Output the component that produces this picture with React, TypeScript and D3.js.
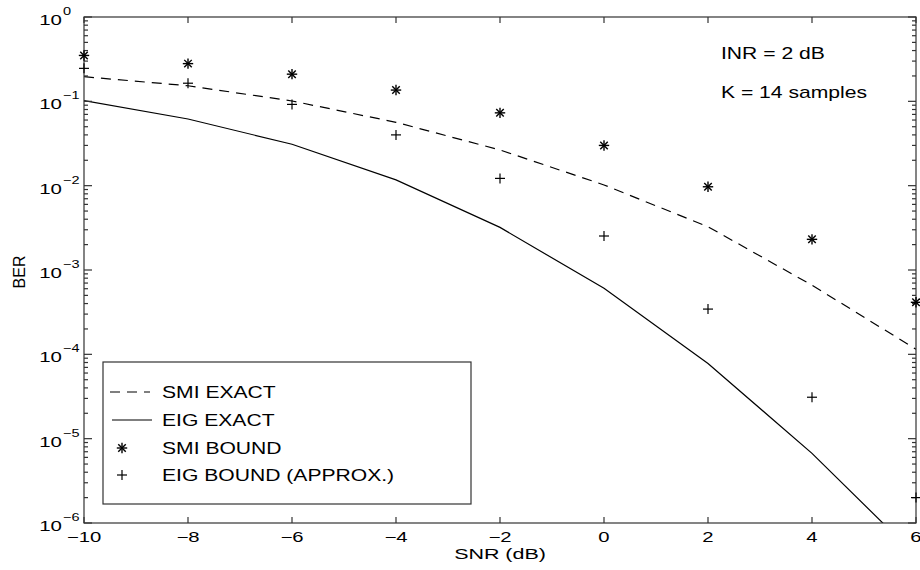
import * as d3 from 'd3';

const snr = [-10, -8, -6, -4, -2, 0, 2, 4, 6];
const smiExact = [0.196, 0.153, 0.101, 0.0564, 0.0265, 0.0102, 0.00326, 0.00066, 0.000115];
const eigExact = [0.102, 0.0617, 0.031, 0.0117, 0.0032, 0.000606, 0.000078, 0.0000067, 0.00000041];
const smiBound = [0.35, 0.28, 0.21, 0.136, 0.073, 0.03, 0.0097, 0.00231, 0.000414];
const eigBound = [0.246, 0.164, 0.092, 0.04, 0.0122, 0.00253, 0.000344, 0.000031, 0.000002];

const xTicks = [-10, -8, -6, -4, -2, 0, 2, 4, 6];
const yExps = [0, -1, -2, -3, -4, -5, -6];
const legendLabels = ['SMI EXACT', 'EIG EXACT', 'SMI BOUND', 'EIG BOUND (APPROX.)'];
const notes = ['INR = 2 dB', 'K = 14 samples'];

const W = 920, H = 570;
const L = 84, R = 916, T = 17, B = 523;
const FONT = '"Liberation Sans", Arial, Helvetica, sans-serif';

const minus = (n: number) => (n < 0 ? '\u2212' + Math.abs(n) : String(n));

// the original's lettering is drawn wide, so each text gets a horizontal stretch
const Txt = ({ x, y, anchor = 'start', size = 16, sx = 1.32, children }: any) => (
  <text
    transform={`translate(${x},${y}) scale(${sx},1)`}
    textAnchor={anchor}
    fontSize={size}
    fontFamily={FONT}
    fill="#000"
  >
    {children}
  </text>
);

const Star = ({ x, y, r = 5.2 }: any) => {
  const d = r * 0.72;
  return (
    <g stroke="#000" strokeWidth={1.4}>
      <line x1={x - r} y1={y} x2={x + r} y2={y} />
      <line x1={x} y1={y - r} x2={x} y2={y + r} />
      <line x1={x - d} y1={y - d} x2={x + d} y2={y + d} />
      <line x1={x - d} y1={y + d} x2={x + d} y2={y - d} />
    </g>
  );
};

const Plus = ({ x, y, r = 5 }: any) => (
  <g stroke="#000" strokeWidth={1.2}>
    <line x1={x - r} y1={y} x2={x + r} y2={y} />
    <line x1={x} y1={y - r} x2={x} y2={y + r} />
  </g>
);

export default function App() {
  const x = d3.scaleLinear().domain([-10, 6]).range([L, R]);
  const y = d3.scaleLog().domain([1e-6, 1]).range([B, T]);

  const line = d3.line<number>()
    .x((_, i) => x(snr[i]))
    .y(d => y(d));

  const minor: number[] = [];
  for (let e = -6; e < 0; e++) {
    for (let m = 2; m <= 9; m++) minor.push(m * Math.pow(10, e));
  }

  const axisColor = '#333';
  const legendY = [392, 420, 448, 475];

  return (
    <svg width={W} height={H} style={{ position: 'absolute', left: 0, top: 0, background: '#fff' }}>
      <defs>
        <clipPath id="plot">
          <rect x={L} y={T} width={R - L} height={B - T} />
        </clipPath>
      </defs>

      {/* curves */}
      <g clipPath="url(#plot)" fill="none" stroke="#000" strokeWidth={1.2}>
        <path d={line(smiExact) || ''} strokeDasharray="10,7" />
        <path d={line(eigExact) || ''} />
      </g>

      {/* axes box and ticks */}
      <g stroke={axisColor} strokeWidth={1.2} fill="none">
        <rect x={L} y={T} width={R - L} height={B - T} />
        {xTicks.map(t => (
          <g key={'xt' + t}>
            <line x1={x(t)} x2={x(t)} y1={B} y2={B - 6} />
            <line x1={x(t)} x2={x(t)} y1={T} y2={T + 6} />
          </g>
        ))}
        {yExps.map(e => (
          <g key={'ye' + e}>
            <line x1={L} x2={L + 8} y1={y(Math.pow(10, e))} y2={y(Math.pow(10, e))} />
            <line x1={R} x2={R - 8} y1={y(Math.pow(10, e))} y2={y(Math.pow(10, e))} />
          </g>
        ))}
        {minor.map((v, i) => (
          <g key={'mn' + i}>
            <line x1={L} x2={L + 4} y1={y(v)} y2={y(v)} />
            <line x1={R} x2={R - 4} y1={y(v)} y2={y(v)} />
          </g>
        ))}
      </g>

      {/* markers */}
      {snr.map((s, i) => (
        <Star key={'s' + i} x={x(s)} y={y(smiBound[i])} />
      ))}
      {snr.map((s, i) => (
        <Plus key={'p' + i} x={x(s)} y={y(eigBound[i])} />
      ))}

      {/* tick labels */}
      {xTicks.map(t => (
        <Txt key={'xl' + t} x={x(t)} y={541.5} anchor="middle" size={14} sx={1.45}>{minus(t)}</Txt>
      ))}
      {yExps.map(e => (
        <g key={'yl' + e}>
          <Txt x={62} y={y(Math.pow(10, e)) + 8} anchor="end" size={15.5}>10</Txt>
          <Txt x={63} y={y(Math.pow(10, e)) - 2} size={11}>{minus(e)}</Txt>
        </g>
      ))}

      {/* axis titles */}
      <Txt x={(L + R) / 2} y={558.5} anchor="middle" size={14.5} sx={1.48}>SNR (dB)</Txt>
      <text
        transform="translate(25,272) rotate(-90)"
        textAnchor="middle"
        fontSize={16}
        fontFamily={FONT}
      >
        BER
      </text>

      {/* annotations */}
      <Txt x={721} y={59}>{notes[0]}</Txt>
      <Txt x={721} y={98}>{notes[1]}</Txt>

      {/* legend */}
      <rect x={103} y={362} width={368} height={142} fill="#fff" stroke={axisColor} strokeWidth={1.2} />
      <line x1={110} x2={150} y1={legendY[0]} y2={legendY[0]} stroke="#000" strokeWidth={1.2} strokeDasharray="10,7" />
      <line x1={112} x2={152} y1={legendY[1]} y2={legendY[1]} stroke="#000" strokeWidth={1.2} />
      <Star x={122} y={legendY[2]} />
      <Plus x={122} y={legendY[3]} />
      {legendLabels.map((l, i) => (
        <Txt key={l} x={162} y={legendY[i] + 5.5}>{l}</Txt>
      ))}
    </svg>
  );
}
